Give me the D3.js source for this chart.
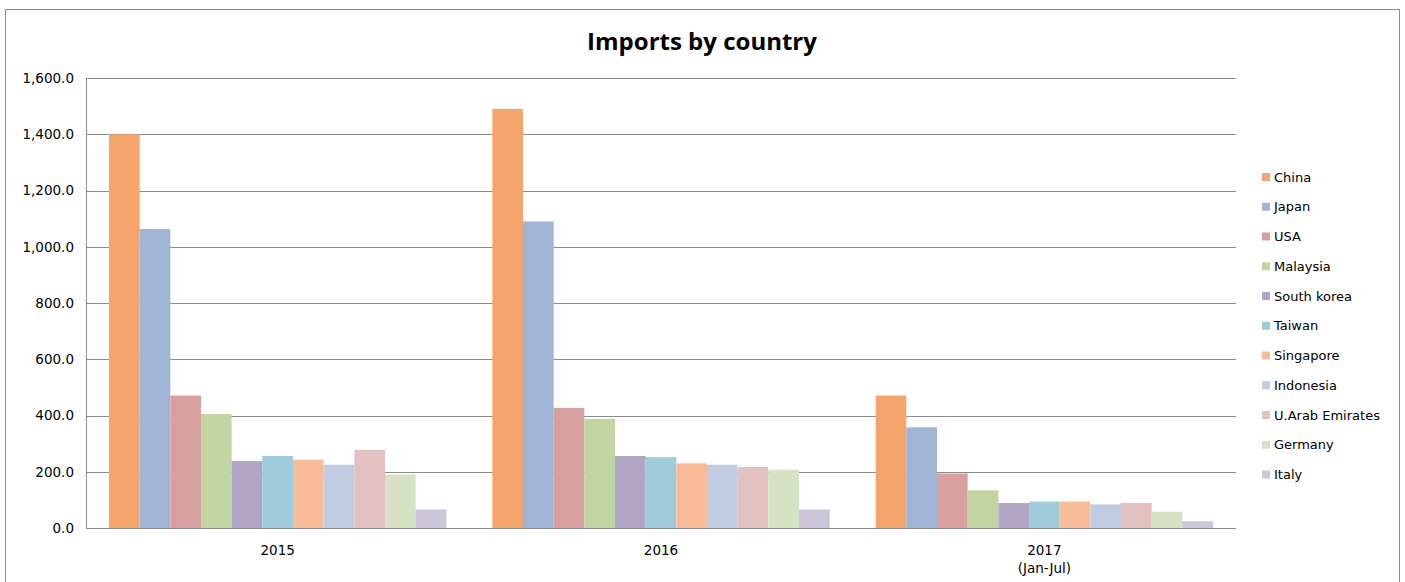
<!DOCTYPE html>
<html>
<head>
<meta charset="utf-8">
<title>Imports by country</title>
<script src="https://cdn.jsdelivr.net/npm/d3@7"></script>
<style>
  html, body { margin: 0; padding: 0; background: #fff; }
  svg { display: block; }
  .tick text { font-family: "DejaVu Sans", sans-serif; font-size: 13.5px; fill: #000; }
  .legend text { font-family: "DejaVu Sans", sans-serif; font-size: 13px; fill: #000; }
</style>
</head>
<body>
<div id="chart"></div>
<script>
'use strict';

var years     = ['2015', '2016', '2017'];
var yearNotes = ['', '', '(Jan-Jul)'];
var countries = ['China', 'Japan', 'USA', 'Malaysia', 'South korea', 'Taiwan',
                 'Singapore', 'Indonesia', 'U.Arab Emirates', 'Germany', 'Italy'];

// one array per year, same order as countries
var imports2015 = [1400, 1063, 471, 405, 238, 256, 243, 225, 278, 190, 66];
var imports2016 = [1490, 1090, 427, 388, 256, 252, 230, 225, 217, 207, 66];
var imports2017 = [471, 358, 194, 134, 89, 94, 94, 84, 89, 58, 24];
var yTicks      = [0, 200, 400, 600, 800, 1000, 1200, 1400, 1600];

var colors = ['#f5a56c', '#a0b4d6', '#d8a09e', '#c1d4a1', '#b2a6c6', '#9fcbda',
              '#f8bd98', '#bfcce2', '#e3c1c1', '#d6e2c3', '#ccc6da'];

var values = [imports2015, imports2016, imports2017];

var W = 1405, H = 582;
var margin = { top: 78, left: 86 };
var plotW = 1236 - margin.left;
var plotH = 528 - margin.top;

var svg = d3.select('#chart').append('svg')
            .attr('width', W)
            .attr('height', H);

// outer chart frame
svg.append('rect')
   .attr('x', 5.5).attr('y', 9.5)
   .attr('width', 1394).attr('height', 600)
   .attr('fill', '#fff')
   .attr('stroke', '#8c8c8c');

svg.append('text')
   .attr('x', 702).attr('y', 50)
   .attr('text-anchor', 'middle')
   .style('font-family', '"Open Sans", sans-serif')
   .style('font-weight', 700)
   .style('font-size', '24px')
   .text('Imports by country');

var g = svg.append('g')
           .attr('transform', 'translate(' + margin.left + ',' + margin.top + ')');

var x0 = d3.scaleBand().domain(years).range([0, plotW]);
// Excel gap width 150%: 11 bars + 1.5 bar of gap per group
var gap = x0.bandwidth() * 0.75 / 12.5;
var x1 = d3.scaleBand().domain(countries)
           .range([gap, x0.bandwidth() - gap]);

var y = d3.scaleLinear().domain([0, 1600]).range([plotH, 0]);

// gridlines + y labels
var yAxis = g.append('g')
             .call(d3.axisLeft(y).tickValues(yTicks)
                     .tickSize(-plotW).tickPadding(12)
                     .tickFormat(d3.format(',.1f')));
yAxis.select('.domain').remove();
yAxis.selectAll('.tick line')
     .attr('stroke', '#8c8c8c')
     .attr('shape-rendering', 'crispEdges');

g.append('line')
 .attr('x1', 0).attr('x2', 0)
 .attr('y1', 0).attr('y2', plotH)
 .attr('stroke', '#8c8c8c')
 .attr('shape-rendering', 'crispEdges');

var groups = g.selectAll('g.year')
              .data(years).enter().append('g')
              .attr('class', 'year')
              .attr('transform', function(d) { return 'translate(' + x0(d) + ',0)'; });

groups.selectAll('rect')
      .data(function(d, i) {
        return countries.map(function(c, j) { return { country: c, value: values[i][j], idx: j }; });
      })
      .enter().append('rect')
      .attr('x', function(d) { return x1(d.country); })
      .attr('width', x1.bandwidth())
      .attr('y', function(d) { return y(d.value); })
      .attr('height', function(d) { return plotH - y(d.value); })
      .attr('fill', function(d) { return colors[d.idx]; });

// baseline drawn over the bars
g.append('line')
 .attr('x1', 0).attr('x2', plotW)
 .attr('y1', plotH).attr('y2', plotH)
 .attr('stroke', '#8c8c8c')
 .attr('shape-rendering', 'crispEdges');

var xLabels = g.selectAll('g.xlabel')
               .data(years).enter().append('g')
               .attr('class', 'tick')
               .attr('transform', function(d) {
                 return 'translate(' + (x0(d) + x0.bandwidth() / 2) + ',' + plotH + ')';
               });
xLabels.append('text')
       .attr('y', 27)
       .attr('text-anchor', 'middle')
       .text(function(d) { return d; });
xLabels.append('text')
       .attr('y', 45)
       .attr('text-anchor', 'middle')
       .text(function(d, i) { return yearNotes[i]; });

// legend
var legend = svg.append('g')
                .attr('class', 'legend')
                .attr('transform', 'translate(1262,173)');
var item = legend.selectAll('g')
                 .data(countries).enter().append('g')
                 .attr('transform', function(d, i) { return 'translate(0,' + (i * 29.75) + ')'; });
item.append('rect')
    .attr('width', 8).attr('height', 8)
    .attr('fill', function(d, i) { return colors[i]; });
item.append('text')
    .attr('x', 12).attr('y', 8.5)
    .text(function(d) { return d; });
</script>
</body>
</html>
